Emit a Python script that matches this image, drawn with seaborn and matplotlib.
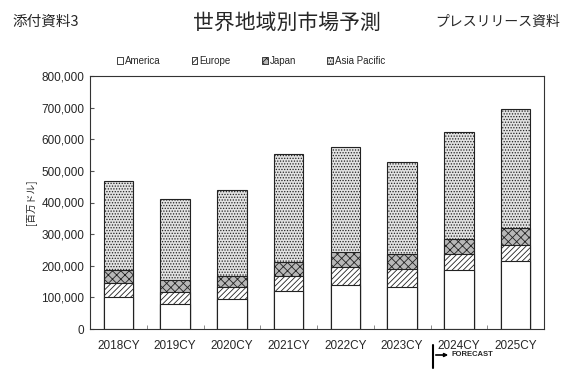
import matplotlib
matplotlib.use("Agg")
import matplotlib.pyplot as plt
import seaborn as sns
import pandas as pd
import numpy as np
from matplotlib.patches import Patch
from matplotlib.ticker import FuncFormatter, MultipleLocator

years = ["2018CY", "2019CY", "2020CY", "2021CY", "2022CY", "2023CY", "2024CY", "2025CY"]
america = [101000, 78000, 94000, 119000, 139000, 132000, 185000, 215000]
europe = [43000, 38000, 38000, 48000, 56000, 57000, 51000, 52000]
japan = [42000, 38000, 35000, 44000, 47000, 47000, 50000, 51000]
asia_pacific = [282000, 256000, 271000, 342000, 332000, 291000, 338000, 378000]
series_names = ["America", "Europe", "Japan", "Asia Pacific"]

sns.set_style("white")
plt.rcParams['font.family'] = ['Liberation Sans', 'Noto Sans CJK JP', 'DejaVu Sans']
plt.rcParams['hatch.linewidth'] = 0.6

fig = plt.figure(figsize=(5.69, 3.76), dpi=100)
ax = fig.add_axes([90/569, 47/376, (544-90)/569, (329-76)/376])

df = pd.DataFrame({"year": years, "America": america, "Europe": europe,
                   "Japan": japan, "Asia Pacific": asia_pacific})
cum = df[series_names].cumsum(axis=1)

styles = {
    "America": dict(face="white", hatch=None),
    "Europe": dict(face="white", hatch="//////"),
    "Japan": dict(face="#b8b8b8", hatch="xxxx"),
    "Asia Pacific": dict(face="#e2e2e2", hatch="......"),
}

for name in reversed(series_names):
    n_before = len(ax.patches)
    sns.barplot(x=df["year"], y=cum[name], color=styles[name]["face"],
                saturation=1, width=0.52, edgecolor="#222222", linewidth=0.8, ax=ax)
    for p in ax.patches[n_before:]:
        p.set_facecolor(styles[name]["face"])
        if styles[name]["hatch"]:
            p.set_hatch(styles[name]["hatch"])

ax.set_ylim(0, 800000)
ax.set_xlim(-0.5, len(years) - 0.5)
ax.yaxis.set_major_locator(MultipleLocator(100000))
ax.yaxis.set_major_formatter(FuncFormatter(lambda v, p: f"{int(v):,}"))
ax.set_xlabel("")
ax.set_ylabel("[百万ドル]", fontsize=7, family=['Noto Sans CJK JP'], labelpad=4)
ax.tick_params(axis='y', labelsize=8.5, direction='in', length=3, left=True, pad=4, color="#555555")
ax.tick_params(axis='x', labelsize=8.5, length=0, pad=8)
ax.set_xticks(np.arange(len(years)))
ax.set_xticks(np.arange(len(years) - 1) + 0.5, minor=True)
ax.tick_params(axis='x', which='minor', direction='in', length=3, bottom=True, color="#777777")
for s in ax.spines.values():
    s.set_color("#333333")
    s.set_linewidth(0.8)

handles = [Patch(facecolor=styles[n]["face"], edgecolor="#222222", hatch=styles[n]["hatch"], linewidth=0.6)
           for n in series_names]
fig.legend(handles, series_names, loc="center", bbox_to_anchor=(251/569, 1 - 61/376),
           ncol=4, frameon=False, fontsize=7, handlelength=0.6, handleheight=0.6,
           handletextpad=0.2, columnspacing=3.2)

fig.text(12/569, 1 - 22/376, "添付資料3", fontsize=10.5, va="center", ha="left",
         family=['Noto Sans CJK JP'])
fig.text(287/569, 1 - 23/376, "世界地域別市場予測", fontsize=15, va="center", ha="center",
         family=['Noto Sans CJK JP'])
fig.text(560/569, 1 - 22/376, "プレスリリース資料", fontsize=10, va="center", ha="right",
         family=['Noto Sans CJK JP'])

# FORECAST marker
fig.add_artist(plt.Line2D([433/569, 433/569], [1 - 345/376, 1 - 368/376], color="black", lw=1.5,
                          transform=fig.transFigure))
ax.annotate("", xy=(451/569, 1 - 355/376), xytext=(433/569, 1 - 355/376),
            xycoords="figure fraction", textcoords="figure fraction",
            arrowprops=dict(arrowstyle="-|>", color="black", lw=1.2, mutation_scale=5))
fig.text(452/569, 1 - 355/376, "FORECAST", fontsize=5.5, fontweight="bold", va="center", ha="left")

fig.savefig("out.png", dpi=100)
